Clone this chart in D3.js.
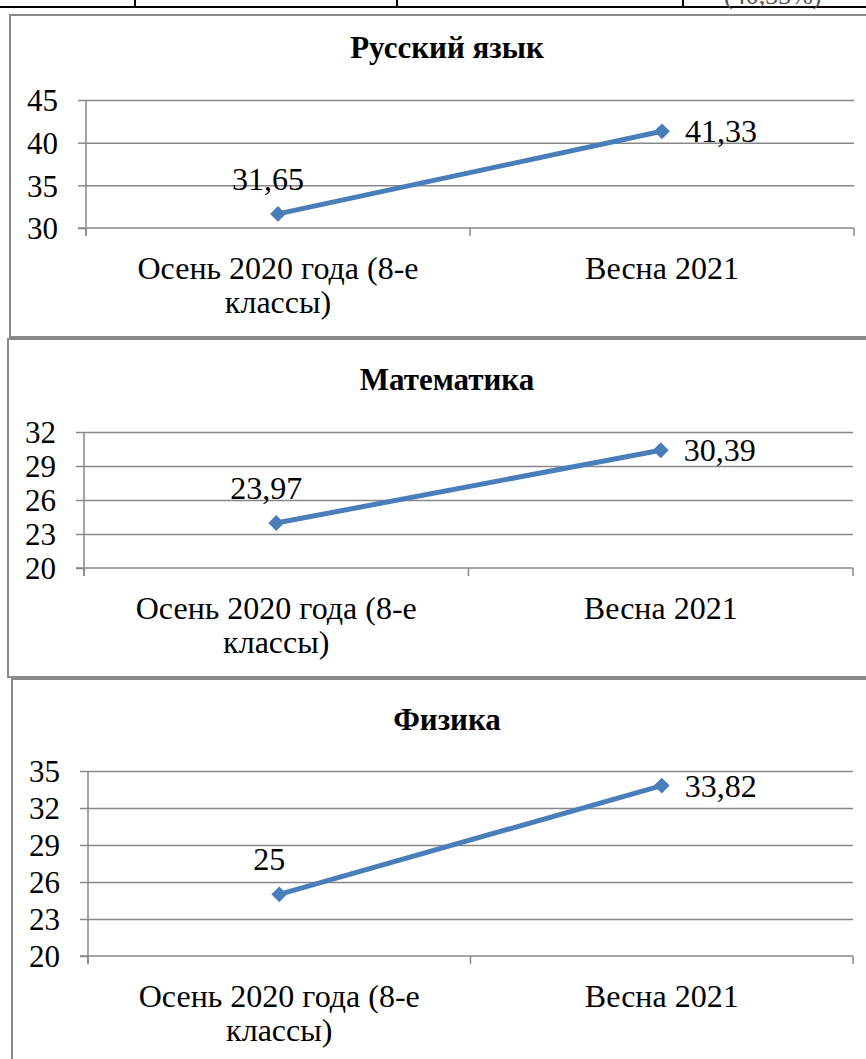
<!DOCTYPE html>
<html>
<head>
<meta charset="utf-8">
<script src="https://cdn.jsdelivr.net/npm/d3@7"></script>
<style>
  body { margin: 0; background: #fff; }
</style>
</head>
<body>
<svg></svg>
<script>
// data
var categories = ["Осень 2020 года (8-е классы)", "Весна 2021"];
var titles = ["Русский язык", "Математика", "Физика"];
var russianValues = [31.65, 41.33];
var mathValues = [23.97, 30.39];
var physicsValues = [25, 33.82];
var russianTicks = [30, 35, 40, 45];
var mathTicks = [20, 23, 26, 29, 32];
var physicsTicks = [20, 23, 26, 29, 32, 35];

var svgWidth = 866, svgHeight = 1059;
var serif = "'Liberation Serif'";
var svg = d3.select("svg")
  .attr("width", svgWidth)
  .attr("height", svgHeight);

var ru = d3.formatLocale({decimal: ",", thousands: " ", grouping: [3], currency: ["", ""]});
var fmt = function(d) { return Number.isInteger(d) ? String(d) : ru.format(".2f")(d); };

var gridColor = "#888888", lineColor = "#4a7ebb";

// piece of the table above the charts
svg.append("line").attr("x1", 0).attr("x2", svgWidth).attr("y1", 7).attr("y2", 7)
  .attr("stroke", "#000").attr("stroke-width", 2);
[135, 397, 683].forEach(function(x) {
  svg.append("line").attr("x1", x).attr("x2", x).attr("y1", 0).attr("y2", 7)
    .attr("stroke", "#000").attr("stroke-width", 2);
});
svg.append("text").attr("x", 724).attr("y", 4).attr("font-size", 26).attr("fill", "#555")
  .style("font-family", serif)
  .text("(40,33%)");

// layout for each panel
var panels = [
  {title: titles[0], values: russianValues, ticks: russianTicks,
   box: [10, 15, 337], titleY: 58, left: 86, right: 854, top: 100, bottom: 228},
  {title: titles[1], values: mathValues, ticks: mathTicks,
   box: [8, 339, 677], titleY: 390, left: 84, right: 853, top: 432, bottom: 568},
  {title: titles[2], values: physicsValues, ticks: physicsTicks,
   box: [12, 679, 1070], titleY: 730, left: 88, right: 853, top: 771, bottom: 956}
];

function wrap(text, width) {
  text.each(function() {
    var t = d3.select(this), words = t.text().split(/\s+/), line = [], lineNo = 0;
    var x = t.attr("x"), y = t.attr("y");
    var tspan = t.text(null).append("tspan").attr("x", x).attr("y", y);
    words.forEach(function(w) {
      line.push(w);
      tspan.text(line.join(" "));
      if (tspan.node().getComputedTextLength() > width && line.length > 1) {
        line.pop();
        tspan.text(line.join(" "));
        line = [w];
        lineNo++;
        tspan = t.append("tspan").attr("x", x).attr("y", +y + lineNo * 34).text(w);
      }
    });
  });
}

panels.forEach(function(p) {
  var g = svg.append("g");

  g.append("rect")
    .attr("x", p.box[0]).attr("y", p.box[1])
    .attr("width", svgWidth + 20 - p.box[0]).attr("height", p.box[2] - p.box[1])
    .attr("fill", "#fff").attr("stroke", "#8a8a8a").attr("stroke-width", 2);

  g.append("text")
    .attr("x", 447).attr("y", p.titleY)
    .attr("text-anchor", "middle").attr("font-weight", "bold").attr("font-size", 31)
    .style("font-family", serif)
    .text(p.title);

  var xScale = d3.scaleBand().domain(categories).range([p.left, p.right]);
  var yScale = d3.scaleLinear()
    .domain([d3.min(p.ticks), d3.max(p.ticks)])
    .range([p.bottom, p.top]);

  // gridlines + y axis
  var yAxis = d3.axisLeft(yScale).tickValues(p.ticks).tickSize(8).tickPadding(20).tickFormat(fmt);
  var ya = g.append("g").attr("transform", "translate(" + p.left + ",0)").call(yAxis);
  ya.select(".domain").attr("d", "M0," + p.top + "V" + (p.bottom + 8));
  ya.selectAll("line").attr("stroke", gridColor).attr("stroke-width", 1.5);
  ya.select(".domain").attr("stroke", gridColor).attr("stroke-width", 1.5);
  ya.selectAll(".tick text").attr("font-size", 31).attr("fill", "#000").attr("dy", "0.35em")
    .style("font-family", serif);
  ya.selectAll(".tick").filter(function(d) { return d !== d3.min(p.ticks); })
    .append("line").attr("x1", 0).attr("x2", p.right - p.left)
    .attr("stroke", gridColor).attr("stroke-width", 1.5);

  // x axis with ticks at band edges
  var xa = g.append("g").attr("transform", "translate(0," + p.bottom + ")");
  xa.append("line").attr("x1", p.left - 8).attr("x2", p.right)
    .attr("stroke", gridColor).attr("stroke-width", 1.5);
  var edges = categories.map(function(c) { return xScale(c); }).concat([p.right]);
  xa.selectAll(".edge").data(edges).enter().append("line")
    .attr("x1", function(d) { return d; }).attr("x2", function(d) { return d; })
    .attr("y1", 0).attr("y2", 8)
    .attr("stroke", gridColor).attr("stroke-width", 1.5);
  xa.selectAll(".cat").data(categories).enter().append("text")
    .attr("x", function(d) { return xScale(d) + xScale.bandwidth() / 2; })
    .attr("y", 51)
    .attr("text-anchor", "middle").attr("font-size", 32)
    .style("font-family", serif)
    .text(function(d) { return d; })
    .call(wrap, xScale.bandwidth() * 0.8);

  // the series
  var pts = p.values.map(function(v, i) {
    return [xScale(categories[i]) + xScale.bandwidth() / 2, yScale(v)];
  });
  g.append("path").datum(pts)
    .attr("d", d3.line())
    .attr("fill", "none").attr("stroke", lineColor).attr("stroke-width", 5);
  g.selectAll(".mark").data(pts).enter().append("path")
    .attr("transform", function(d) { return "translate(" + d + ")"; })
    .attr("d", d3.symbol(d3.symbolDiamond2, 160)())
    .attr("fill", lineColor);

  // data labels: first above, second to the right
  g.append("text")
    .attr("x", pts[0][0] - 10).attr("y", pts[0][1] - 24)
    .attr("text-anchor", "middle").attr("font-size", 32)
    .style("font-family", serif)
    .text(fmt(p.values[0]));
  g.append("text")
    .attr("x", pts[1][0] + 23).attr("y", pts[1][1] + 11)
    .attr("font-size", 32)
    .style("font-family", serif)
    .text(fmt(p.values[1]));
});
</script>
</body>
</html>
